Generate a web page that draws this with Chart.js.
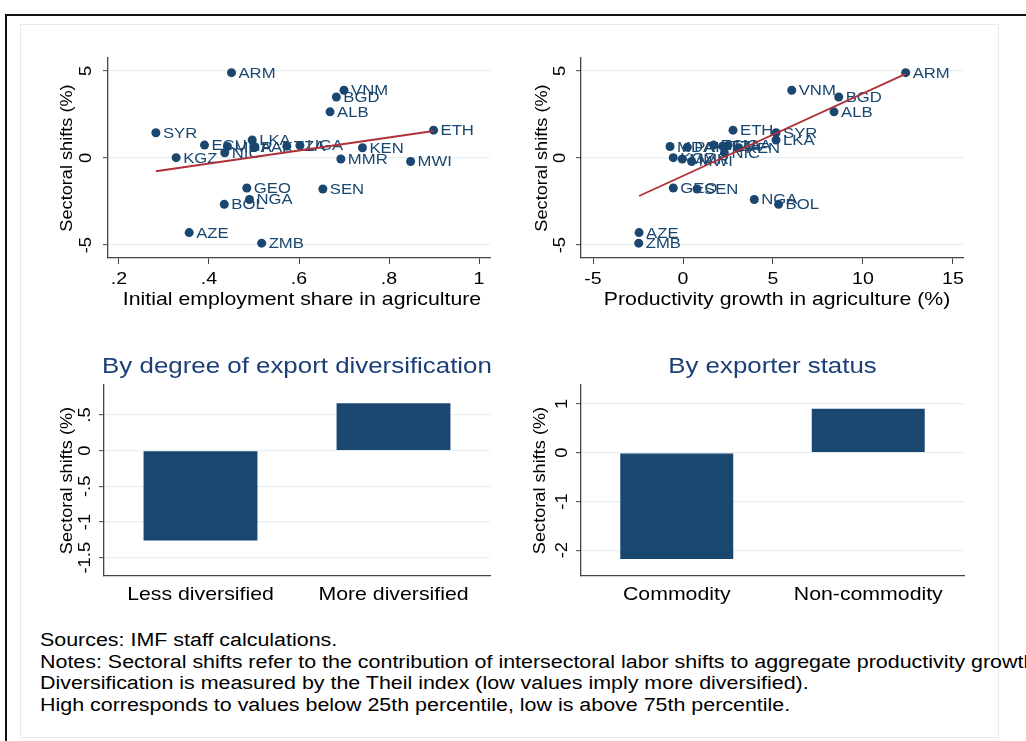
<!DOCTYPE html>
<html>
<head>
<meta charset="utf-8">
<script src="https://cdn.jsdelivr.net/npm/chart.js@4.4.1/dist/chart.umd.min.js"></script>
<style>
  body { margin: 0; width: 1026px; height: 741px; overflow: hidden; background: #fff; position: relative; }
  .caja { position: absolute; }
  canvas { position: absolute; }
  #marco { left: 5px; top: 14px; width: 1100px; height: 800px; border-top: 2px solid #111; border-left: 2px solid #111; }
  #interior { left: 20px; top: 24px; width: 977px; height: 712px; border: 1px solid #e3ecef; }
  #notas { left: 40px; top: 630px; font: 18px "Liberation Sans", Arial, sans-serif; line-height: 21.5px;
           white-space: nowrap; transform: scaleX(1.19); transform-origin: left top; color: #000; }
</style>
</head>
<body>
<div class="caja" id="marco"></div>
<div class="caja" id="interior"></div>
<canvas id="c1" width="500" height="290" style="left:20px;top:40px"></canvas>
<canvas id="c2" width="500" height="290" style="left:500px;top:40px"></canvas>
<canvas id="c3" width="500" height="280" style="left:20px;top:340px"></canvas>
<canvas id="c4" width="500" height="280" style="left:500px;top:340px"></canvas>
<div class="caja" id="notas">
  Sources: IMF staff calculations.<br>
  Notes: Sectoral shifts refer to the contribution of intersectoral labor shifts to aggregate productivity growth.<br>
  Diversification is measured by the Theil index (low values imply more diversified).<br>
  High corresponds to values below 25th percentile, low is above 75th percentile.
</div>
<script>
// datos
const paises = ['ARM','VNM','BGD','ALB','ETH','SYR','LKA','ECU','MDA','PAK','TZA','UGA','KEN','NIC','KGZ','MMR','MWI','GEO','SEN','NGA','BOL','AZE','ZMB'];
const cambioSectorial = [4.9, 3.89, 3.5, 2.65, 1.6, 1.45, 1.03, 0.74, 0.66, 0.62, 0.68, 0.72, 0.59, 0.3, 0.02, -0.06, -0.2, -1.72, -1.78, -2.38, -2.66, -4.28, -4.89];
const empleoAgricola = [0.450, 0.700, 0.683, 0.669, 0.899, 0.282, 0.496, 0.390, 0.441, 0.500, 0.573, 0.602, 0.741, 0.435, 0.327, 0.693, 0.848, 0.484, 0.653, 0.490, 0.434, 0.356, 0.517];
const productividadAgricola = [12.37, 6.04, 8.65, 8.39, 2.78, 5.17, 5.17, 1.7, -0.72, 0.24, 2.2, 2.5, 3.1, 2.3, -0.54, -0.04, 0.48, -0.54, 0.78, 3.96, 5.31, -2.44, -2.46];

// lineas de ajuste (extremos leidos)
const ajusteEmpleoX = [0.282, 0.899];
const ajusteEmpleoY = [-0.76, 1.55];
const ajusteProdX = [-2.44, 12.37];
const ajusteProdY = [-2.18, 4.83];

const divCategorias = ['Less diversified', 'More diversified'];
const divValores = [-1.26, 0.665];
const expCategorias = ['Commodity', 'Non-commodity'];
const expValores = [-2.18, 0.905];

const ticksEmpleo = [0.2, 0.4, 0.6, 0.8, 1];
const ticksProd = [-5, 0, 5, 10, 15];
const ticksCambio = [-5, 0, 5];
const ticksDiv = [-1.5, -1, -0.5, 0, 0.5];
const ticksExp = [-2, -1, 0, 1];

const NAVY = '#1a476f';
const ROJO = '#b0303a';
const TITULO = '#1d3f78';
const REJILLA = '#e6eff2';
const EJE = '#444';
const FUENTE = '"Liberation Sans", Arial, sans-serif';
const ESTIRA = 1.15; // el texto del original esta un poco ensanchado

// formato tipo Stata: .2, -.5
function fmt(v) {
    return String(v).replace(/^(-?)0\./, '$1.');
}

function texto(ctx, s, x, y, size, color, op) {
    op = op || {};
    ctx.save();
    ctx.translate(x, y);
    if (op.rot) ctx.rotate(op.rot);
    ctx.scale(op.estira || ESTIRA, 1);
    ctx.font = size + 'px ' + FUENTE;
    ctx.fillStyle = color;
    ctx.textAlign = op.align || 'center';
    ctx.textBaseline = op.base || 'middle';
    ctx.fillText(s, 0, 0);
    ctx.restore();
}

// dibuja etiquetas de ejes, titulos y nombres de paises
const textoStata = {
    id: 'textoStata',
    afterDatasetDraw(chart, args, o) {
        if (!o.etiquetas || args.index !== 0) return;
        const meta = chart.getDatasetMeta(0);
        meta.data.forEach((p, i) => {
            texto(chart.ctx, o.etiquetas[i], p.x + 7, p.y + 1, 14.5, NAVY, {align: 'left'});
        });
    },
    afterDraw(chart, args, o) {
        const ctx = chart.ctx;
        const a = chart.chartArea;
        const sx = chart.scales.x;
        const sy = chart.scales.y;
        sy.ticks.forEach(t => {
            texto(ctx, fmt(t.value), a.left - o.tickGap, sy.getPixelForValue(t.value), 16, '#000', {rot: -Math.PI / 2, base: 'alphabetic'});
        });
        texto(ctx, 'Sectoral shifts (%)', a.left - o.titleGap, (a.top + a.bottom) / 2, 16.5, '#000', {rot: -Math.PI / 2, base: 'alphabetic', estira: 1.1});
        if (sx.type === 'linear') {
            sx.ticks.forEach(t => {
                texto(ctx, fmt(t.value), sx.getPixelForValue(t.value), a.bottom + 21, 17, '#000');
            });
        } else {
            chart.data.labels.forEach((l, i) => {
                texto(ctx, l, sx.getPixelForValue(i), a.bottom + 19, 18.5, '#000');
            });
        }
        if (o.xTitle) texto(ctx, o.xTitle, (a.left + a.right) / 2 + o.xTitleShift, a.bottom + 42, 18.5, '#000');
        if (o.heading) texto(ctx, o.heading, (a.left + a.right) / 2, a.top - 18, 22.5, TITULO);
    }
};

function ejeY(min, max, ticks, ancho) {
    return {
        type: 'linear', min: min, max: max, bounds: 'data',
        afterBuildTicks: s => { s.ticks = ticks.map(v => ({value: v})); },
        afterFit: s => { s.width = ancho; },
        ticks: {display: false},
        grid: {color: REJILLA, lineWidth: 1.3, drawTicks: true, tickLength: 5, tickColor: EJE, tickWidth: 1},
        border: {display: true, color: EJE, width: 1.3}
    };
}

function dispersion(id, xs, ajX, ajY, xmin, xmax, xticks, ancho, pad, tickGap, titleGap, xTitle, xTitleShift) {
    const puntos = xs.map((x, i) => ({x: x, y: cambioSectorial[i]}));
    const linea = ajX.map((x, i) => ({x: x, y: ajY[i]}));
    new Chart(document.getElementById(id), {
        type: 'scatter',
        data: {
            datasets: [
                {data: puntos, backgroundColor: NAVY, borderWidth: 0, pointRadius: 4.5, order: 1},
                {data: linea, showLine: true, borderColor: ROJO, borderWidth: 1.8, pointRadius: 0, order: 0}
            ]
        },
        options: {
            responsive: false, animation: false, events: [],
            layout: {padding: {left: 0, top: 18, right: pad, bottom: 0}},
            plugins: {
                legend: {display: false}, tooltip: {enabled: false},
                textoStata: {etiquetas: paises, tickGap: tickGap, titleGap: titleGap, xTitle: xTitle, xTitleShift: xTitleShift}
            },
            scales: {
                x: {
                    type: 'linear', min: xmin, max: xmax, bounds: 'data',
                    afterBuildTicks: s => { s.ticks = xticks.map(v => ({value: v})); },
                    afterFit: s => { s.height = 72; },
                    ticks: {display: false},
                    grid: {drawOnChartArea: false, drawTicks: true, tickLength: 6, tickColor: EJE, tickWidth: 1},
                    border: {display: true, color: EJE, width: 1.3}
                },
                y: ejeY(-5.74, 5.74, ticksCambio, ancho)
            }
        },
        plugins: [textoStata]
    });
}

function barras(id, cats, vals, ymin, ymax, yticks, ancho, pad, tickGap, titleGap, heading) {
    new Chart(document.getElementById(id), {
        type: 'bar',
        data: {
            labels: cats,
            datasets: [{data: vals, backgroundColor: NAVY, borderWidth: 0, categoryPercentage: 1, barPercentage: 0.59}]
        },
        options: {
            responsive: false, animation: false, events: [],
            layout: {padding: {left: 0, top: 45, right: pad, bottom: 0}},
            plugins: {
                legend: {display: false}, tooltip: {enabled: false},
                textoStata: {tickGap: tickGap, titleGap: titleGap, heading: heading}
            },
            scales: {
                x: {
                    afterFit: s => { s.height = 44; },
                    ticks: {display: false},
                    grid: {display: false},
                    border: {display: true, color: EJE, width: 1.3}
                },
                y: ejeY(ymin, ymax, yticks, ancho)
            }
        },
        plugins: [textoStata]
    });
}

dispersion('c1', empleoAgricola, ajusteEmpleoX, ajusteEmpleoY, 0.1756, 1.0244, ticksEmpleo, 88, 30, 17, 36,
    'Initial employment share in agriculture', 3);
dispersion('c2', productividadAgricola, ajusteProdX, ajusteProdY, -5.667, 15.556, ticksProd, 81, 37, 16, 34,
    'Productivity growth in agriculture (%)', 5);
barras('c3', divCategorias, divValores, -1.757, 0.92, ticksDiv, 84, 30, 14, 32, 'By degree of export diversification');
barras('c4', expCategorias, expValores, -2.53, 1.39, ticksExp, 81, 36, 14, 36, 'By exporter status');
</script>
</body>
</html>
